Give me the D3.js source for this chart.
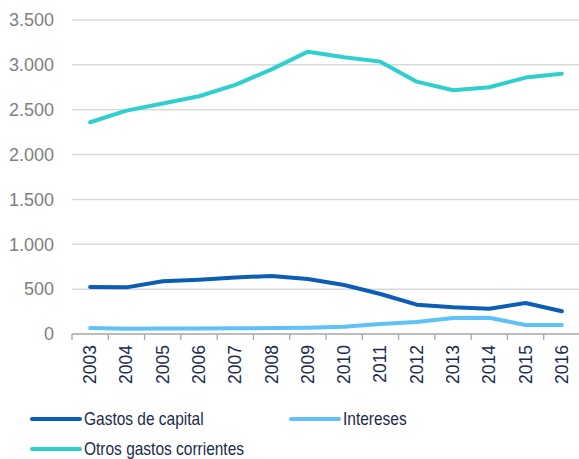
<!DOCTYPE html>
<html>
<head>
<meta charset="utf-8">
<script src="https://cdn.jsdelivr.net/npm/d3@7"></script>
<style>
  html, body { margin: 0; padding: 0; background: #fff; }
  svg { display: block; font-family: "Liberation Sans", Arial, sans-serif; }
</style>
</head>
<body>
<svg id="chart" width="579" height="459"></svg>
<script>
// Years on the category axis
const years = ["2003","2004","2005","2006","2007","2008","2009","2010","2011","2012","2013","2014","2015","2016"];

// Series values (millions)
const gastosCapital = [524, 520, 587, 605, 630, 647, 613, 546, 446, 327, 297, 282, 346, 253];
const intereses     = [67, 59, 60, 62, 64, 66, 70, 81, 111, 134, 178, 182, 100, 100];
const otrosGastos   = [2360, 2490, 2570, 2650, 2776, 2950, 3147, 3085, 3036, 2813, 2717, 2750, 2858, 2902];

// Y-axis ticks
const yTicks = [0, 500, 1000, 1500, 2000, 2500, 3000, 3500];

const seriesNames  = ["Gastos de capital", "Intereses", "Otros gastos corrientes"];
const seriesValues = [gastosCapital, intereses, otrosGastos];
const seriesColors = ["#0c5db4", "#5ec1f8", "#2ecfce"];

const svg = d3.select("#chart");
const plotLeft = 72, plotRight = 580, plotTop = 20, plotBottom = 334;

const x = d3.scaleBand().domain(years).range([plotLeft, plotRight]).paddingInner(0).paddingOuter(0);
const y = d3.scaleLinear().domain([0, 3500]).range([plotBottom, plotTop]);

const fmt = v => d3.format(",")(v).replace(/,/g, ".");

// Horizontal gridlines
svg.append("g")
  .selectAll("line")
  .data(yTicks.filter(d => d > 0))
  .join("line")
  .attr("x1", plotLeft).attr("x2", 579)
  .attr("y1", d => y(d)).attr("y2", d => y(d))
  .attr("stroke", "#d9d9d9").attr("stroke-width", 1.5);

// Y-axis labels
const yAxis = d3.axisLeft(y).tickValues(yTicks).tickSize(0).tickPadding(0).tickFormat(fmt);
svg.append("g")
  .attr("transform", `translate(${plotLeft - 18},0)`)
  .call(yAxis)
  .call(g => g.select(".domain").remove())
  .call(g => g.selectAll("text")
    .attr("fill", "#7f7f7f")
    .attr("font-size", "18px")
    .attr("font-family", "Liberation Sans, Arial, sans-serif"));

// X axis: baseline with tick marks at category boundaries
const xg = svg.append("g");
xg.append("line")
  .attr("x1", plotLeft).attr("x2", 579)
  .attr("y1", plotBottom).attr("y2", plotBottom)
  .attr("stroke", "#a6a6a6").attr("stroke-width", 1.3);
xg.selectAll("line.tick")
  .data(years.concat(["end"]))
  .join("line")
  .attr("class", "tick")
  .attr("x1", (d, i) => plotLeft + i * x.step())
  .attr("x2", (d, i) => plotLeft + i * x.step())
  .attr("y1", plotBottom).attr("y2", plotBottom + 6)
  .attr("stroke", "#a6a6a6").attr("stroke-width", 1.3);

// Rotated year labels
xg.selectAll("text")
  .data(years)
  .join("text")
  .attr("transform", d => `translate(${x(d) + x.bandwidth() / 2 + 6},${plotBottom + 11}) rotate(-90)`)
  .attr("text-anchor", "end")
  .attr("fill", "#1a2b4c")
  .attr("font-size", "17.5px")
  .text(d => d);

// Series lines
const line = d3.line()
  .x((d, i) => x(years[i]) + x.bandwidth() / 2)
  .y(d => y(d));

svg.append("g")
  .selectAll("path")
  .data(seriesValues)
  .join("path")
  .attr("d", d => line(d))
  .attr("fill", "none")
  .attr("stroke", (d, i) => seriesColors[i])
  .attr("stroke-width", 4)
  .attr("stroke-linejoin", "round")
  .attr("stroke-linecap", "round");

// Legend (text slightly condensed)
const legendPos = [[32, 419], [291, 419], [32, 449]];
const lg = svg.append("g")
  .selectAll("g")
  .data(seriesNames)
  .join("g")
  .attr("transform", (d, i) => `translate(${legendPos[i][0]},${legendPos[i][1]})`);
lg.append("line")
  .attr("x1", 0).attr("x2", 48).attr("y1", 0).attr("y2", 0)
  .attr("stroke", (d, i) => seriesColors[i])
  .attr("stroke-width", 4)
  .attr("stroke-linecap", "round");
lg.append("text")
  .attr("transform", "translate(52,0) scale(0.885,1)")
  .attr("dy", "0.35em")
  .attr("fill", "#1a2b4c")
  .attr("font-size", "17.5px")
  .text(d => d);
</script>
</body>
</html>
